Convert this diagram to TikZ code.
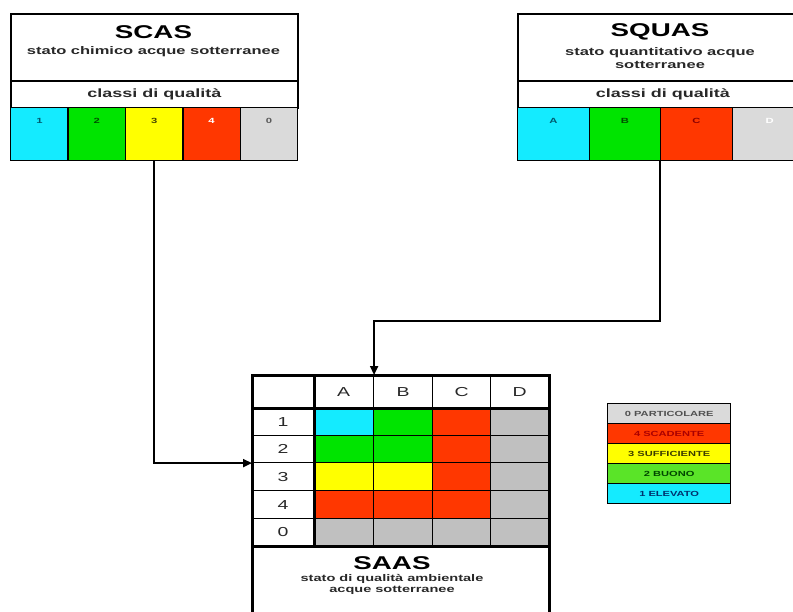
\documentclass[tikz,border=0pt]{standalone}
\usepackage{fontspec}
\setmainfont{Liberation Sans}[FakeStretch=1.5]
\usetikzlibrary{arrows.meta,calc}
\definecolor{qcyan}{RGB}{20,235,255}
\definecolor{qgreen}{RGB}{0,228,0}
\definecolor{qyellow}{RGB}{255,255,0}
\definecolor{qred}{RGB}{255,55,0}
\definecolor{qgrayl}{RGB}{218,218,218}
\definecolor{qgrayd}{RGB}{192,192,192}
\definecolor{lgreen}{RGB}{90,228,40}
\definecolor{tdark}{RGB}{40,40,40}
\begin{document}
\begin{tikzpicture}[x=1pt,y=-1pt,
  frame/.style={draw=black,line width=1.6pt,fill=white,inner sep=0pt,anchor=north west},
  qcell/.style={draw=black,line width=1.4pt,inner sep=0pt,anchor=north west,
     minimum height=53pt,text height=16pt,text depth=37pt,
     font=\fontsize{7.5}{7.5}\selectfont\bfseries},
  tcell/.style={draw=black,line width=1.1pt,inner sep=0pt,anchor=north west,
     font=\fontsize{13}{13}\selectfont,text=tdark},
  thickline/.style={line width=3pt,line cap=rect},
  lcell/.style={draw=black,line width=1.4pt,inner sep=0pt,anchor=north west,
     minimum width=123pt,minimum height=20pt,font=\fontsize{7.4}{7.4}\selectfont\bfseries},
  conn/.style={line width=1.8pt,-{Triangle[length=9pt,width=8pt]}},
  ttl/.style={font=\fontsize{18.5}{18.5}\selectfont\bfseries},
  sub/.style={font=\fontsize{11}{13}\selectfont\bfseries,align=center,text=tdark}
]
\useasboundingbox (0,0) rectangle (793,611);
\fill[white] (0,0) rectangle (793,611);
\clip (0,0) rectangle (793,611);

% ---------- SCAS ----------
\node[frame,minimum width=287pt,minimum height=67pt] (scas) at (10,13) {};
\node[ttl] (scasT) at (153.5,32) {SCAS};
\node[sub] (scasS) at (153.5,52) {stato chimico acque sotterranee};
\node[frame,minimum width=287pt,minimum height=27pt,font=\fontsize{12}{12}\selectfont\bfseries,text=tdark] (scasC) at (10,80) {classi di qualità};
\node[qcell,fill=qcyan,minimum width=57.4pt,text={rgb,255:red,0;green,90;blue,110}] (s1) at (10,107) {1};
\node[qcell,fill=qgreen,minimum width=57.4pt,text={rgb,255:red,0;green,80;blue,0}] (s2) at (67.4,107) {2};
\node[qcell,fill=qyellow,minimum width=57.4pt,text={rgb,255:red,70;green,70;blue,0}] (s3) at (124.8,107) {3};
\node[qcell,fill=qred,minimum width=57.4pt,text=white] (s4) at (182.2,107) {4};
\node[qcell,fill=qgrayl,minimum width=57.4pt,text={rgb,255:red,90;green,90;blue,90}] (s0) at (239.6,107) {0};

% ---------- SQUAS ----------
\node[frame,minimum width=290pt,minimum height=67pt] (squas) at (517,13) {};
\node[ttl] (squasT) at (660,32) {SQUAS};
\node[sub] (squasS) at (660,58.5) {stato quantitativo acque\\sotterranee};
\node[frame,minimum width=290pt,minimum height=27pt,font=\fontsize{12}{12}\selectfont\bfseries,text=tdark] (squasC) at (517,80) {classi di qualità};
\node[qcell,fill=qcyan,minimum width=71.5pt,text={rgb,255:red,0;green,90;blue,110}] (qA) at (517,107) {A};
\node[qcell,fill=qgreen,minimum width=71.5pt,text={rgb,255:red,0;green,80;blue,0}] (qB) at (588.5,107) {B};
\node[qcell,fill=qred,minimum width=71.5pt,text={rgb,255:red,140;green,0;blue,0}] (qC) at (660,107) {C};
\node[qcell,fill=qgrayl,minimum width=75pt,text=white] (qD) at (731.5,107) {D};

% ---------- SAAS table ----------
\node[tcell,fill=white,minimum width=61pt,minimum height=32pt] (h0) at (252,375) {};
\foreach \c/\x/\w in {A/313/60,B/373/59,C/432/58,D/490/58}
  \node[tcell,fill=white,minimum width=\w*1pt,minimum height=32pt] (h\c) at (\x,375) {\c};
\foreach \r/\y/\h/\ca/\cb/\cc/\cd in {1/407/28/qcyan/qgreen/qred/qgrayd,
    2/435/27/qgreen/qgreen/qred/qgrayd, 3/462/28/qyellow/qyellow/qred/qgrayd,
    4/490/28/qred/qred/qred/qgrayd, 0/518/27/qgrayd/qgrayd/qgrayd/qgrayd}{
  \node[tcell,fill=white,minimum width=61pt,minimum height=\h*1pt] (l\r) at (252,\y) {\r};
  \node[tcell,fill=\ca,minimum width=60pt,minimum height=\h*1pt] (c\r A) at (313,\y) {};
  \node[tcell,fill=\cb,minimum width=59pt,minimum height=\h*1pt] (c\r B) at (373,\y) {};
  \node[tcell,fill=\cc,minimum width=58pt,minimum height=\h*1pt] (c\r C) at (432,\y) {};
  \node[tcell,fill=\cd,minimum width=58pt,minimum height=\h*1pt] (c\r D) at (490,\y) {};
}
\node[tcell,fill=white,minimum width=296pt,minimum height=90pt] (saas) at (252,545) {};
\node[ttl] (saasT) at (392,563) {SAAS};
\node[sub,font=\fontsize{9.7}{11.5}\selectfont\bfseries] (saasS) at (392,584.5) {stato di qualità ambientale\\acque sotterranee};
% thick lines
\draw[thickline] (h0.south west) -- (hD.south east);
\draw[thickline] (h0.north east) -- (l0.south east);
\draw[thickline] (l0.south west) -- (c0D.south east);
\draw[line width=3pt] (saas.south west) -- (h0.north west) -- (hD.north east) -- (saas.south east);

% ---------- legend ----------
\node[lcell,fill=qgrayl,text={rgb,255:red,80;green,80;blue,80}] (g0) at (607,403) {0 PARTICOLARE};
\node[lcell,fill=qred,text={rgb,255:red,170;green,0;blue,0}] (g4) at (607,423) {4 SCADENTE};
\node[lcell,fill=qyellow,text={rgb,255:red,60;green,60;blue,0}] (g3) at (607,443) {3 SUFFICIENTE};
\node[lcell,fill=lgreen,text={rgb,255:red,0;green,70;blue,0}] (g2) at (607,463) {2 BUONO};
\node[lcell,fill=qcyan,text={rgb,255:red,0;green,50;blue,110}] (g1) at (607,483) {1 ELEVATO};

% ---------- connectors ----------
\draw[conn] (s3.south) |- (l2.south west);
\draw[conn] (qC.south west) |- ($(hA.north east)+(0,-54)$) -- (hA.north east);
\end{tikzpicture}
\end{document}
